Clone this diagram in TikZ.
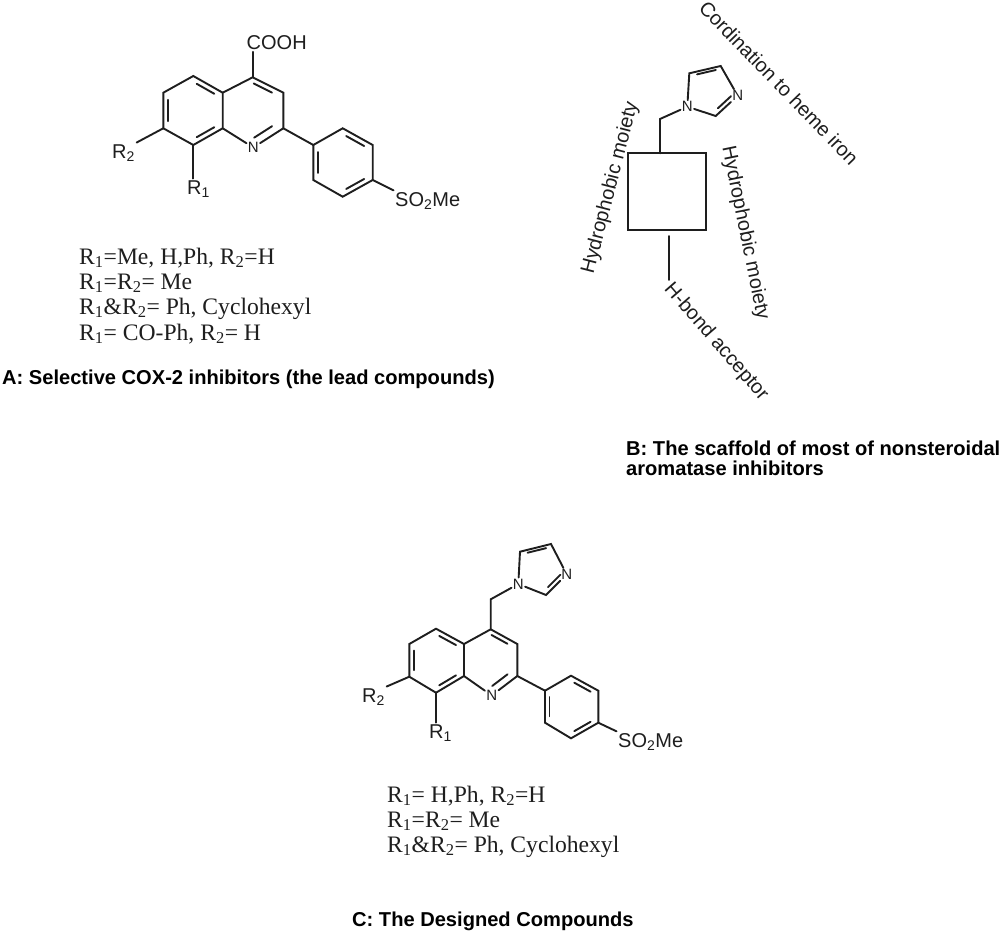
\documentclass[tikz,border=0pt]{standalone}
\usepackage{fontspec}
\setmainfont{Liberation Sans}
\newfontfamily\serifcap{Liberation Serif}
\usetikzlibrary{calc}
\definecolor{ink}{HTML}{1E1E1E}
\newcommand{\dblin}[3]{\draw[bond] ($(#1)!.14!(#2)!.17!(#3)$) -- ($(#2)!.14!(#1)!.17!(#3)$);}
\newcommand{\sbs}[1]{\textsubscript{#1}}
\newcommand{\quinbonds}[1]{%
  \coordinate (#1ctrA) at ($(#1C4)!.5!(#1C8a)$);
  \coordinate (#1ctrB) at ($(#1C5)!.5!(#1C8)$);
  \coordinate (#1ctrC) at ($(#1P1)!.5!(#1P4)$);
  \draw[bond] (#1C4a) -- (#1C4) -- (#1C3) -- (#1C2) -- (#1N) -- (#1C8a) -- (#1C4a) -- (#1C5) -- (#1C6) -- (#1C7) -- (#1C8) -- (#1C8a);
  \dblin{#1C4}{#1C3}{#1ctrA}
  \dblin{#1C2}{#1N}{#1ctrA}
  \dblin{#1C4a}{#1C5}{#1ctrB}
  \dblin{#1C6}{#1C7}{#1ctrB}
  \dblin{#1C8}{#1C8a}{#1ctrB}
  \draw[bond] (#1C2) -- (#1P1);
  \draw[bond] (#1P1) -- (#1P2) -- (#1P3) -- (#1P4) -- (#1P5) -- (#1P6) -- cycle;
  \dblin{#1P2}{#1P3}{#1ctrC}
  \dblin{#1P4}{#1P5}{#1ctrC}
  \dblin{#1P6}{#1P1}{#1ctrC}
  \draw[bond] (#1C7) -- (#1Rb.north east);
  \draw[bond] (#1C8) -- (#1C8 |- #1Ra.north);
  \draw[bond] (#1P4) -- (#1SO.north west);
}
\newcommand{\imidbonds}[1]{%
  \coordinate (#1ctrI) at ($(#1I5)!.5!(#1I3)$);
  \draw[bond] (#1I1) -- (#1I5) -- (#1I4) -- (#1I3) -- (#1I2) -- (#1I1);
  \dblin{#1I5}{#1I4}{#1ctrI}
  \dblin{#1I3}{#1I2}{#1ctrI}
}
\tikzset{
  bond/.style={draw=ink,line width=1.9pt,line join=miter,line cap=round},
  atom/.style={font=\fontsize{15}{16}\selectfont,text=ink,inner sep=1.2pt},
  chem/.style={font=\fontsize{20}{22}\selectfont,text=ink,inner sep=1.5pt,anchor=base west,xshift=-1.5pt},
  rot/.style={font=\fontsize{20}{22}\selectfont,text=ink,inner sep=0pt,anchor=center},
  sublist/.style={font=\serifcap\fontsize{23.6}{26}\selectfont,text=ink,inner sep=0pt,anchor=base west},
  caption/.style={font=\bfseries\fontsize{20.1}{22}\selectfont,text=black,inner sep=0pt,anchor=base west},
}
\begin{document}
\begin{tikzpicture}[x=1pt,y=-1pt]
\useasboundingbox[fill=white] (0,0) rectangle (1000,931);

% --- A ---
\coordinate (aC4) at (252.7,77.3);
\coordinate (aC3) at (283.3,92.7);
\coordinate (aC2) at (283.3,128.3);
\node[atom] (aN) at (253.3,147.5) {N};
\coordinate (aC8a) at (222.7,128.3);
\coordinate (aC4a) at (222.7,92.7);
\coordinate (aC5) at (193.3,76);
\coordinate (aC6) at (163.3,92.7);
\coordinate (aC7) at (163.3,128.3);
\coordinate (aC8) at (193.3,145);
\coordinate (aP1) at (313.3,145);
\coordinate (aP2) at (342.7,128.3);
\coordinate (aP3) at (372.7,145);
\coordinate (aP4) at (372.7,180);
\coordinate (aP5) at (342.7,196.7);
\coordinate (aP6) at (313.3,180);
\node[chem] (aCOOH) at (246.5,50) {COOH};
\node[chem] (aRb) at (112,158) {R\sbs{2}};
\node[chem] (aRa) at (187,194) {R\sbs{1}};
\node[chem] (aSO) at (395,206) {SO\sbs{2}Me};
\quinbonds{a}
\draw[bond] (aC4) -- (aC4 |- aCOOH.south);
\node[sublist] (al1) at (79,264) {R\sbs{1}=Me, H,Ph, R\sbs{2}=H};
\node[sublist] (al2) at (79,289) {R\sbs{1}=R\sbs{2}= Me};
\node[sublist] (al3) at (79,314) {R\sbs{1}\&R\sbs{2}= Ph, Cyclohexyl};
\node[sublist] (al4) at (79,340) {R\sbs{1}= CO-Ph, R\sbs{2}= H};
\node[caption] (acap) at (2,384) {A: Selective COX-2 inhibitors (the lead compounds)};

% --- B ---
\node[atom] (bI1) at (687.3,106.7) {N};
\coordinate (bI5) at (689.3,73.3);
\coordinate (bI4) at (720.7,66);
\node[atom] (bI3) at (737.7,95.7) {N};
\coordinate (bI2) at (715.7,116);
\imidbonds{b}
\node[draw=ink,line width=1.9pt,minimum width=77.4pt,minimum height=76.7pt,inner sep=0pt,outer sep=0pt] (bsq) at (667,191.6) {};
\coordinate (bCH) at (660,119);
\coordinate (bsqt) at (660,153.3);
\draw[bond] (bsqt) -- (bCH) -- (bI1);
\coordinate (bst) at (669.3,236);
\coordinate (bsb) at (669.3,280);
\draw[bond] (bst) -- (bsb);
\node[rot,rotate=-46] (bt1) at (779,83) {Cordination to heme iron};
\node[rot,rotate=75.5] (bt2) at (610.5,188) {Hydrophobic moiety};
\node[rot,rotate=-78.5] (bt3) at (745,233) {Hydrophobic moiety};
\node[rot,rotate=-49] (bt4) at (716,342) {H-bond acceptor};
\node[caption] (bcap1) at (626,455) {B: The scaffold of most of nonsteroidal};
\node[caption] (bcap2) at (626,475) {aromatase inhibitors};

% --- C ---
\coordinate (cC4) at (490.7,629.3);
\coordinate (cC3) at (517.3,644);
\coordinate (cC2) at (517.3,676);
\node[atom] (cN) at (491.7,695.5) {N};
\coordinate (cC8a) at (464,676);
\coordinate (cC4a) at (464,644);
\coordinate (cC5) at (436,628.7);
\coordinate (cC6) at (409.3,644);
\coordinate (cC7) at (409.3,676.7);
\coordinate (cC8) at (436,692.7);
\coordinate (cP1) at (545,690.7);
\coordinate (cP2) at (571,675.7);
\coordinate (cP3) at (598.3,690.7);
\coordinate (cP4) at (598.3,722.7);
\coordinate (cP5) at (571,738.3);
\coordinate (cP6) at (545,722.7);
\node[chem] (cRb) at (362,702) {R\sbs{2}};
\node[chem] (cRa) at (429,738) {R\sbs{1}};
\node[chem] (cSO) at (618,747) {SO\sbs{2}Me};
\quinbonds{c}
\node[atom] (cI1) at (518.3,584) {N};
\coordinate (cI5) at (520,551.7);
\coordinate (cI4) at (551,544);
\node[atom] (cI3) at (566.7,574.3) {N};
\coordinate (cI2) at (546,595);
\imidbonds{c}
\coordinate (cCH) at (490.7,599.3);
\draw[bond] (cC4) -- (cCH) -- (cI1);
\node[sublist] (cl1) at (387,802) {R\sbs{1}= H,Ph, R\sbs{2}=H};
\node[sublist] (cl2) at (387,827) {R\sbs{1}=R\sbs{2}= Me};
\node[sublist] (cl3) at (387,852) {R\sbs{1}\&R\sbs{2}= Ph, Cyclohexyl};
\node[caption] (ccap) at (352,926) {C: The Designed Compounds};
\end{tikzpicture}
\end{document}
